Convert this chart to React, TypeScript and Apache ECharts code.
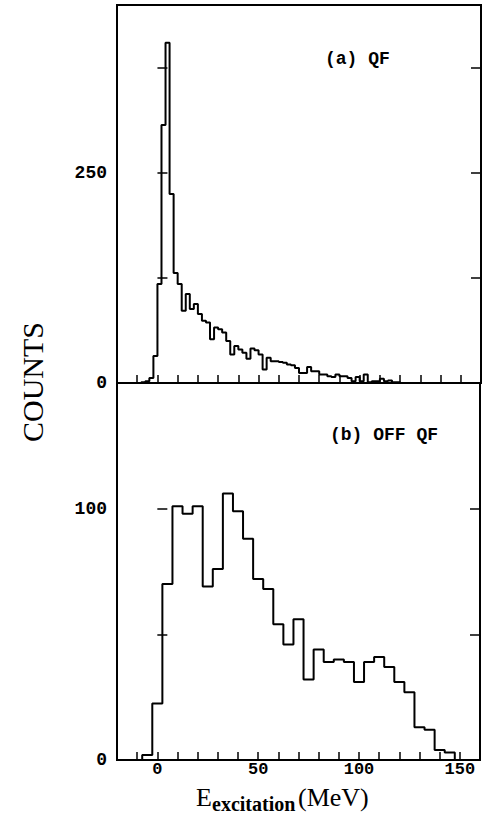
import React, { useEffect, useRef } from "react";
import * as echarts from "echarts";

// Energy axis (MeV)
const xMin = -20;
const xMax = 160;
const xTickStep = 10;
const xLabelValues = [0, 50, 100, 150];

// (a) QF spectrum: 2 MeV bins starting at -10 MeV
const qfBinStart = -10;
const qfBinWidth = 2;
const qfCounts = [
  0, 1, 2, 6, 32, 118, 307, 405, 225, 131,
  118, 86, 106, 88, 94, 82, 74, 72, 52, 66,
  64, 60, 50, 34, 44, 40, 36, 29, 41, 39,
  34, 16, 30, 26, 26, 25, 24, 22, 21, 18,
  12, 12, 19, 14, 14, 10, 10, 8, 7, 10,
  8, 8, 6, 2, 7, 2, 10, 1, 2, 2,
  5, 2, 3, 1, 1,
];
const qfYMax = 450;
const qfYStep = 125;
const qfYLabels = [0, 250];

// (b) OFF QF spectrum: 5 MeV bins starting at -7.5 MeV
const offBinStart = -7.5;
const offBinWidth = 5;
const offCounts = [
  2, 22.5, 70, 101, 98, 101, 69, 76, 106, 99,
  88, 72, 68, 54, 46, 56, 32, 44, 39, 40,
  39, 31, 39, 41, 37, 31, 27, 13, 12, 4,
  3,
];
const offYMax = 150;
const offYStep = 50;
const offYLabels = [0, 100];

const panelTitles = ["(a) QF", "(b) OFF QF"];
const yAxisTitle = "COUNTS";
const xAxisTitleMain = "E";
const xAxisTitleSub = "excitation";
const xAxisTitleUnit = "(MeV)";

function histPoints(start: number, width: number, counts: number[]) {
  const pts: number[][] = [[start, 0]];
  counts.forEach((c, i) => pts.push([start + i * width, c]));
  pts.push([start + counts.length * width, 0]);
  return pts;
}

const MONO = '"Liberation Mono", "DejaVu Sans Mono", monospace';
const SERIF = '"Liberation Serif", "DejaVu Serif", serif';

export default function App() {
  const ref = useRef<HTMLDivElement>(null);
  useEffect(() => {
    if (!ref.current) return;
    const chart = echarts.init(ref.current, null, { renderer: "svg" });

    const xAxisBase = (gridIndex: number, showLabels: boolean) => ({
      type: "value",
      gridIndex,
      min: xMin,
      max: xMax,
      interval: xTickStep,
      axisLine: { show: false },
      splitLine: { show: false },
      axisTick: { show: true, inside: true, length: 8, lineStyle: { color: "#000", width: 1.5 } },
      axisLabel: {
        show: showLabels,
        margin: 2,
        lineHeight: 14,
        color: "#000",
        fontFamily: MONO,
        fontWeight: "bold",
        fontSize: 17,
        formatter: (v: number) => (xLabelValues.includes(v) ? String(v) : ""),
      },
    });

    const yAxisBase = (
      gridIndex: number,
      max: number,
      step: number,
      labels: number[],
      position: "left" | "right"
    ) => ({
      type: "value",
      gridIndex,
      position,
      min: 0,
      max,
      interval: step,
      axisLine: { show: false },
      splitLine: { show: false },
      axisTick: { show: true, inside: true, length: 10, lineStyle: { color: "#000", width: 1.5 } },
      axisLabel: {
        show: position === "left",
        margin: 10,
        color: "#000",
        fontFamily: MONO,
        fontWeight: "bold",
        fontSize: 18,
        showMaxLabel: false,
        formatter: (v: number) => (labels.includes(v) ? String(v) : ""),
      },
    });

    chart.setOption({
      animation: false,
      backgroundColor: "#fff",
      grid: [
        { left: 117, right: 2, top: 5, height: 378, show: true, borderColor: "#000", borderWidth: 2, containLabel: false },
        { left: 117, right: 2, top: 383, height: 377, show: true, borderColor: "#000", borderWidth: 2, containLabel: false },
      ],
      xAxis: [xAxisBase(0, false), xAxisBase(1, true)],
      yAxis: [
        yAxisBase(0, qfYMax, qfYStep, qfYLabels, "left"),
        yAxisBase(0, qfYMax, qfYStep, qfYLabels, "right"),
        yAxisBase(1, offYMax, offYStep, offYLabels, "left"),
        yAxisBase(1, offYMax, offYStep, offYLabels, "right"),
      ],
      series: [
        {
          type: "line",
          xAxisIndex: 0,
          yAxisIndex: 0,
          step: "end",
          showSymbol: false,
          data: histPoints(qfBinStart, qfBinWidth, qfCounts),
          lineStyle: { color: "#000", width: 2 },
        },
        {
          type: "line",
          xAxisIndex: 1,
          yAxisIndex: 2,
          step: "end",
          showSymbol: false,
          data: histPoints(offBinStart, offBinWidth, offCounts),
          lineStyle: { color: "#000", width: 2 },
        },
      ],
      graphic: [
        {
          type: "text",
          x: 325,
          y: 59,
          style: { text: panelTitles[0], font: `bold 18px ${MONO}`, fill: "#000", textAlign: "left", textVerticalAlign: "middle" },
        },
        {
          type: "text",
          x: 330,
          y: 435,
          style: { text: panelTitles[1], font: `bold 18px ${MONO}`, fill: "#000", textAlign: "left", textVerticalAlign: "middle" },
        },
        {
          type: "text",
          x: 32,
          y: 382,
          rotation: Math.PI / 2,
          style: { text: yAxisTitle, font: `30px ${SERIF}`, fill: "#000", textAlign: "center", textVerticalAlign: "middle" },
        },
        {
          type: "text",
          x: 196,
          y: 797,
          style: { text: xAxisTitleMain, font: `26px ${SERIF}`, fill: "#000", textAlign: "left", textVerticalAlign: "middle" },
        },
        {
          type: "text",
          x: 212,
          y: 804,
          style: { text: xAxisTitleSub, font: `bold 20px ${SERIF}`, fill: "#000", textAlign: "left", textVerticalAlign: "middle" },
        },
        {
          type: "text",
          x: 298,
          y: 797,
          style: { text: xAxisTitleUnit, font: `26px ${SERIF}`, fill: "#000", textAlign: "left", textVerticalAlign: "middle" },
        },
      ],
    });
    return () => chart.dispose();
  }, []);

  return <div ref={ref} style={{ width: 483, height: 818, position: "fixed", left: 0, top: 0 }} />;
}
